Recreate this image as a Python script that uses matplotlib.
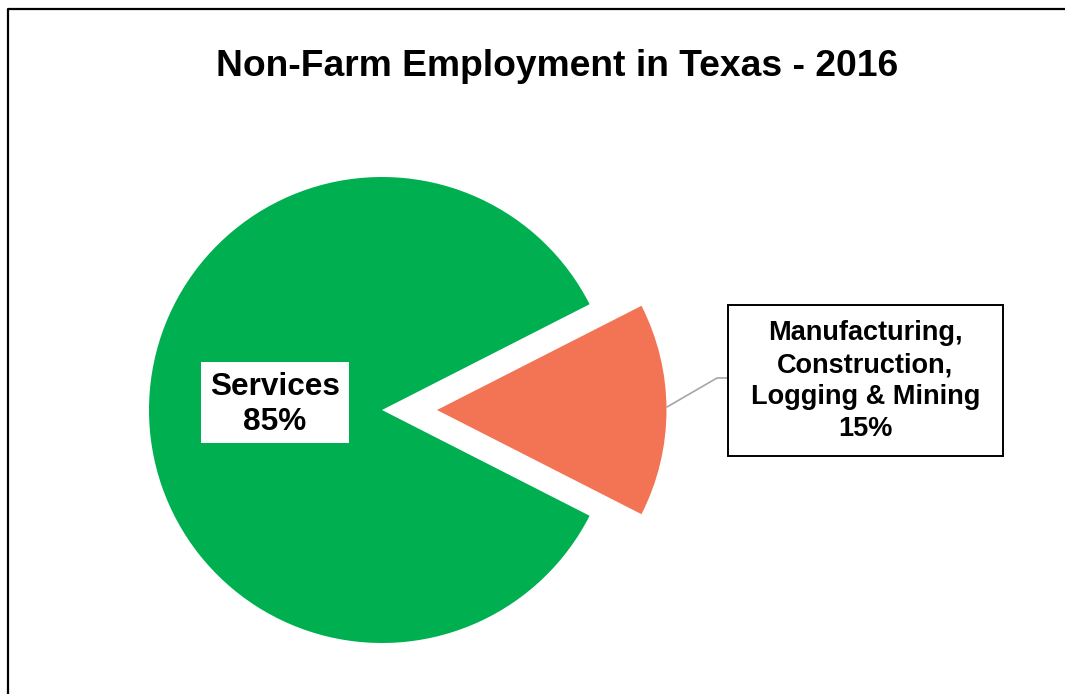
import matplotlib
matplotlib.use("Agg")
import matplotlib.pyplot as plt
from matplotlib.patches import Rectangle
from matplotlib.lines import Line2D

plt.rcParams['font.family'] = ['Liberation Sans', 'DejaVu Sans']

# Data
categories = ["Services", "Manufacturing,\nConstruction,\nLogging & Mining"]
shares = [85, 15]
colors = ["#00B050", "#F37355"]
title = "Non-Farm Employment in Texas - 2016"

W, H = 1065, 694
fig = plt.figure(figsize=(W / 100, H / 100), dpi=100)
fig.patch.set_facecolor("white")


def fx(px):
    return px / W


def fy(py):
    return 1 - py / H


# Pie axes: centre (382, 410) px, radius 233 px
cx, cy, r = 382, 410, 233
ax = fig.add_axes([fx(cx - r), fy(cy + r), 2 * r / W, 2 * r / H])

total = sum(shares)
start = 360 * shares[1] / total / 2  # smaller slice centred on the right
wedges, _ = ax.pie(shares, colors=colors, startangle=start, counterclock=True,
                   explode=[0, 0.236], radius=1.0,
                   wedgeprops=dict(linewidth=0))
wedges[1].set_radius(0.985)
ax.set_aspect("auto")
ax.set_xlim(-1, 1)
ax.set_ylim(-1, 1)
ax.axis("off")

# Services label box
pct0 = f"{shares[0]}%"
sx0, sy0, sx1, sy1 = 201, 362, 349, 443
fig.patches.append(Rectangle((fx(sx0), fy(sy1)), fx(sx1) - fx(sx0), fy(sy0) - fy(sy1),
                             transform=fig.transFigure, facecolor="white",
                             edgecolor="none", zorder=3))
fig.text(fx((sx0 + sx1) / 2), fy((sy0 + sy1) / 2 + 2), f"{categories[0]}\n{pct0}",
         ha="center", va="center", fontsize=22.7, fontweight="bold",
         linespacing=1.2, zorder=4)

# Manufacturing label box with leader line
bx0, by0, bx1, by1 = 728, 305, 1003, 456
fig.patches.append(Rectangle((fx(bx0), fy(by1)), fx(bx1) - fx(bx0), fy(by0) - fy(by1),
                             transform=fig.transFigure, facecolor="white",
                             edgecolor="black", linewidth=1.4, zorder=3))
fig.text(fx((bx0 + bx1) / 2), fy((by0 + by1) / 2 + 1), f"{categories[1]}\n{shares[1]}%",
         ha="center", va="center", fontsize=19.5, fontweight="bold",
         linespacing=1.3, zorder=4)
fig.lines.append(Line2D([fx(667), fx(717), fx(bx0)], [fy(407), fy(378), fy(378)],
                        transform=fig.transFigure, color="#A6A6A6", linewidth=1.2))

# Title
fig.text(fx(557), fy(66), title, ha="center", va="center",
         fontsize=26.8, fontweight="bold")

# Chart frame (left and top edges)
fig.lines.append(Line2D([fx(7.5), fx(7.5), fx(W + 5)], [fy(H + 5), fy(9), fy(9)],
                        transform=fig.transFigure, color="black", linewidth=1.6))

fig.savefig("out.png", dpi=100, facecolor="white")
